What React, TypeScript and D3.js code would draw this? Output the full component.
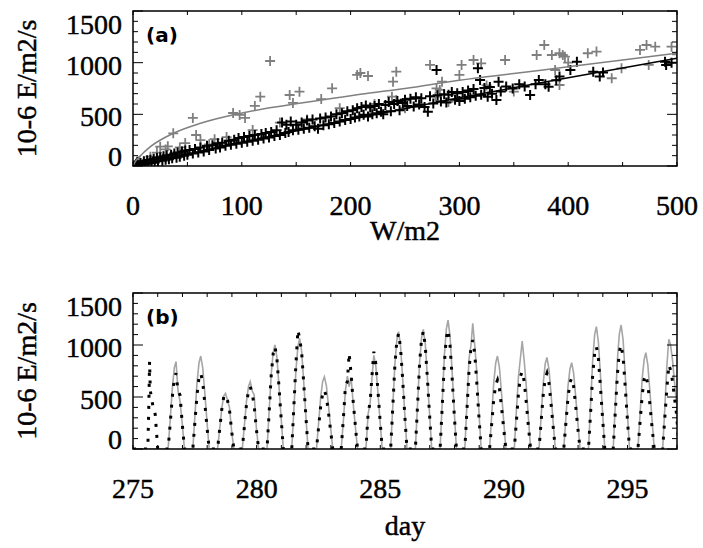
import React from 'react';
import * as d3 from 'd3';

const W = 703, H = 548;

// ---------- Panel (a) data ----------
const xTicksA = [0, 100, 200, 300, 400, 500];
const yTickLabels = [0, 500, 1000, 1500];

const grayPts: [number, number][] = [
  [3, 20], [6, 50], [10, 40], [16, 90], [22, 130], [25, 187], [30, 160], [32, 190], [37, 316], [43, 180],
  [48, 222], [55, 465], [58, 300], [62, 250], [70, 210], [75, 260], [86, 280], [92, 513], [98, 494], [103, 465],
  [110, 348], [112, 581], [117, 671], [126, 1016], [135, 420], [144, 687], [147, 610], [153, 719], [160, 450],
  [173, 648], [183, 752], [190, 560], [206, 881], [209, 900], [216, 871], [222, 600], [238, 671], [239, 816],
  [242, 913], [242, 639], [250, 560], [273, 978], [278, 671], [279, 752], [282, 736], [284, 816], [290, 620],
  [300, 881], [302, 978], [308, 736], [313, 1026], [320, 994], [325, 780], [342, 1026], [350, 720], [371, 1074],
  [378, 1171], [385, 1074], [388, 929], [392, 784], [392, 1091], [395, 1075], [397, 1058], [400, 1000],
  [418, 1091], [426, 1107], [440, 849], [449, 945], [466, 1123], [472, 1171], [474, 978], [480, 1155],
  [495, 1155], [500, 1080],
];

const blackPts: [number, number][] = [
  [1, 5], [3, 22], [4, 40], [5, 8], [7, 30], [8, 10], [10, 45], [11, 20], [13, 55], [14, 25], [16, 60], [17, 30],
  [19, 70], [20, 35], [22, 80], [23, 45], [25, 85], [27, 50], [28, 95], [30, 60], [31, 105], [33, 65], [35, 110],
  [36, 75], [38, 120], [40, 80], [41, 130], [43, 90], [45, 140], [47, 100], [48, 150], [50, 110], [52, 155],
  [55, 120], [57, 165], [60, 130], [62, 180], [65, 140], [68, 195], [70, 155], [73, 200], [76, 170], [78, 220],
  [80, 180], [82, 225], [85, 195], [88, 245], [90, 205], [93, 255], [95, 215], [97, 270], [100, 225], [102, 280],
  [105, 235], [107, 290], [110, 245], [112, 300], [115, 255], [118, 310], [120, 265], [122, 320], [125, 275],
  [127, 330], [130, 290], [132, 345], [135, 300], [137, 420], [140, 320], [141, 400], [143, 330], [145, 430],
  [147, 345], [150, 400], [152, 350], [155, 420], [157, 360], [160, 440], [162, 370], [165, 450], [167, 385],
  [170, 360], [172, 460], [175, 395], [177, 470], [180, 405], [182, 480], [185, 415], [187, 500], [190, 430],
  [192, 510], [195, 445], [197, 530], [200, 455], [202, 540], [204, 470], [206, 560], [208, 480], [210, 570],
  [212, 495], [214, 585], [216, 480], [218, 565], [220, 500], [222, 580], [224, 510], [226, 600], [228, 525],
  [230, 500], [232, 590], [235, 620], [237, 530], [240, 600], [243, 630], [245, 540], [248, 610], [250, 640],
  [252, 580], [255, 650], [258, 575], [260, 665], [263, 595], [265, 655], [268, 570], [271, 526], [273, 675],
  [276, 605], [279, 929], [280, 685], [283, 625], [286, 695], [288, 615], [290, 690], [293, 715], [296, 640],
  [298, 705], [300, 630], [303, 715], [305, 650], [308, 725], [310, 665], [313, 745], [315, 680], [317, 946],
  [319, 833], [320, 690], [323, 755], [326, 670], [328, 765], [330, 700], [334, 639], [336, 816], [338, 720],
  [343, 770], [349, 750], [355, 790], [360, 770], [365, 687], [370, 790], [373, 833], [379, 790], [382, 768],
  [389, 830], [392, 865], [402, 929], [408, 1010], [423, 913], [429, 865], [432, 905], [489, 1010], [490, 978],
  [495, 1000],
];

const grayFit: [number, number][] = [
  [0, 0], [2, 40], [6, 90], [16, 187], [37, 316], [62, 413], [92, 494], [123, 558], [153, 607], [184, 655],
  [209, 694], [250, 750], [300, 830], [350, 895], [400, 960], [450, 1025], [500, 1091],
];
const blackFit: [number, number][] = [
  [0, 0], [100, 230], [200, 450], [300, 660], [400, 855], [500, 1042],
];

// ---------- Panel (b) data ----------
const xTicksB = [275, 280, 285, 290, 295];
const days = [276, 277, 278, 279, 280, 281, 282, 283, 284, 285, 286, 287, 288, 289, 290, 291, 292, 293, 294, 295, 296];
const bellOffsets = [0.42, 0.51, 0.59, 0.67, 0.74, 0.82, 0.90, 0.99, 1.08];
const modelValues = [
  [0, 300, 580, 780, 840, 560, 460, 250, 0],
  [0, 340, 640, 830, 894, 780, 550, 270, 0],
  [0, 200, 390, 510, 535, 470, 400, 170, 0],
  [0, 240, 460, 600, 647, 560, 520, 200, 0],
  [0, 380, 720, 930, 1000, 880, 620, 300, 0],
  [0, 400, 760, 990, 1064, 940, 660, 320, 0],
  [0, 260, 500, 650, 695, 610, 430, 210, 0],
  [0, 280, 560, 700, 600, 690, 450, 220, 0],
  [0, 340, 440, 700, 900, 800, 560, 270, 0],
  [0, 430, 810, 1050, 1128, 990, 700, 340, 0],
  [0, 440, 830, 1070, 1150, 1010, 710, 350, 0],
  [0, 470, 890, 1150, 1240, 1090, 770, 370, 0],
  [0, 460, 870, 1000, 1208, 1000, 750, 360, 0],
  [0, 340, 640, 830, 894, 780, 550, 270, 0],
  [0, 390, 700, 880, 1038, 850, 620, 300, 0],
  [0, 330, 630, 820, 881, 770, 550, 260, 0],
  [0, 310, 600, 770, 830, 730, 510, 250, 0],
  [0, 450, 850, 1100, 1176, 1030, 730, 350, 0],
  [0, 450, 860, 1110, 1192, 1050, 740, 360, 0],
  [0, 350, 670, 860, 926, 810, 570, 280, 0],
  [0, 400, 800, 1055, 1000, 850, 640, 420, 0],
];
const obsValues = [
  [0, 260, 500, 680, 728, 560, 520, 250, 0],
  [0, 280, 520, 690, 728, 640, 450, 220, 0],
  [0, 200, 380, 500, 519, 470, 380, 170, 0],
  [0, 230, 430, 560, 599, 535, 420, 190, 0],
  [0, 370, 710, 920, 984, 870, 610, 300, 0],
  [0, 430, 820, 1144, 1060, 930, 650, 320, 0],
  [0, 220, 410, 530, 567, 500, 360, 180, 0],
  [0, 300, 600, 650, 920, 720, 470, 230, 0],
  [0, 350, 450, 720, 936, 820, 580, 280, 0],
  [0, 420, 800, 1040, 1110, 970, 690, 330, 0],
  [0, 430, 820, 1060, 1130, 990, 700, 340, 0],
  [0, 430, 820, 1070, 1144, 1000, 710, 340, 0],
  [0, 400, 760, 980, 1048, 920, 650, 310, 0],
  [0, 250, 480, 620, 663, 580, 410, 200, 0],
  [0, 280, 540, 700, 744, 650, 460, 220, 0],
  [0, 280, 520, 680, 728, 640, 450, 220, 0],
  [0, 260, 490, 640, 680, 600, 420, 200, 0],
  [0, 370, 710, 920, 984, 870, 610, 300, 0],
  [0, 380, 720, 940, 1000, 880, 620, 300, 0],
  [0, 270, 510, 670, 712, 620, 440, 210, 0],
  [0, 310, 580, 808, 760, 650, 490, 320, 0],
];
const firstObsSpike: [number, number][] = [
  [275.0, 0], [275.60, 0], [275.64, 420], [275.67, 840], [275.70, 560], [275.80, 420], [275.90, 330], [276.0, 0],
];

// ---------- layout ----------
const A = { left: 133, right: 677, top: 11, bottom: 166 };
const B = { left: 133, right: 677, top: 293, bottom: 449 };
const SERIF = 'Liberation Serif, Times New Roman, Times, DejaVu Serif, serif';
const SANS = 'DejaVu Sans, Verdana, sans-serif';
const FS = 28;

function buildSeries(vals: number[][], start: [number, number][]): [number, number][] {
  const out: [number, number][] = [...start];
  days.forEach((d, i) => bellOffsets.forEach((o, j) => out.push([d + o, vals[i][j]])));
  return out;
}

const serifStyle = { fontFamily: SERIF, fontSize: FS, stroke: '#000', strokeWidth: 0.45 };

function Frame({ box, xTickVals, x, y, xLabels }: any) {
  const els: any[] = [];
  xTickVals.forEach((v: number, i: number) => {
    const px = x(v);
    els.push(<line key={'xb' + i} x1={px} x2={px} y1={box.bottom} y2={box.bottom - 4} stroke="#000" strokeWidth={1} />);
    els.push(<line key={'xt' + i} x1={px} x2={px} y1={box.top} y2={box.top + 4} stroke="#000" strokeWidth={1} />);
  });
  d3.range(0, 1501, 100).forEach((v, i) => {
    const py = y(v);
    const len = v % 500 === 0 ? 10 : 5;
    els.push(<line key={'yl' + i} x1={box.left} x2={box.left + len} y1={py} y2={py} stroke="#000" strokeWidth={1} />);
    els.push(<line key={'yr' + i} x1={box.right} x2={box.right - len} y1={py} y2={py} stroke="#000" strokeWidth={1} />);
  });
  yTickLabels.forEach((v, i) => {
    const base = Math.min(Math.max(y(v) + 12, box.top + 23), box.bottom);
    els.push(<text key={'ylab' + i} x={122} y={base} textAnchor="end" style={serifStyle}>{v}</text>);
  });
  xLabels.forEach((v: number, i: number) => {
    els.push(<text key={'xlab' + i} x={x(v)} y={box.bottom + 49} textAnchor="middle" style={serifStyle}>{v}</text>);
  });
  els.push(<rect key="frame" x={box.left} y={box.top} width={box.right - box.left} height={box.bottom - box.top} fill="none" stroke="#000" strokeWidth={1.5} />);
  return <g>{els}</g>;
}

function plus(x: number, y: number, s: number) {
  return `M${x - s},${y}H${x + s}M${x},${y - s}V${y + s}`;
}

export default function App() {
  const xA = d3.scaleLinear().domain([0, 500]).range([A.left, A.right]);
  const yA = d3.scaleLinear().domain([0, 1500]).range([A.bottom, A.top]);
  const xB = d3.scaleLinear().domain([275, 297]).range([B.left, B.right]);
  const yB = d3.scaleLinear().domain([0, 1500]).range([B.bottom, B.top]);

  const lineA = d3.line<[number, number]>().x(d => xA(d[0])).y(d => yA(d[1])).curve(d3.curveMonotoneX);
  const lineB = d3.line<[number, number]>().x(d => xB(d[0])).y(d => yB(d[1]));

  const modelSeries = buildSeries(modelValues, [[275.0, 0]]);
  const obsSeries = buildSeries(obsValues, firstObsSpike);

  const grayPath = grayPts.map(p => plus(xA(p[0]), yA(p[1]), 5)).join('');
  const blackPath = blackPts.map(p => plus(xA(p[0]), yA(p[1]), 5)).join('');

  return (
    <svg width={W} height={H} style={{ position: 'absolute', left: 0, top: 0, background: '#fff' }}>
      <defs>
        <clipPath id="clipA"><rect x={A.left} y={A.top} width={A.right - A.left} height={A.bottom - A.top} /></clipPath>
        <clipPath id="clipB"><rect x={B.left} y={B.top} width={B.right - B.left} height={B.bottom - B.top} /></clipPath>
      </defs>
      <rect x={0} y={0} width={W} height={H} fill="#fff" />

      {/* Panel (a) */}
      <g clipPath="url(#clipA)">
        <path d={grayPath} stroke="#7f7f7f" strokeWidth={1.8} fill="none" />
        <path d={blackPath} stroke="#000" strokeWidth={2} fill="none" />
        <path d={lineA(grayFit) || ''} stroke="#808080" strokeWidth={1.5} fill="none" />
        <path d={lineA(blackFit) || ''} stroke="#000" strokeWidth={1.5} fill="none" />
      </g>
      <Frame box={A} xTickVals={d3.range(0, 501, 50)} x={xA} y={yA} xLabels={xTicksA} />
      <text x={146} y={42} style={{ fontFamily: SANS, fontWeight: 'bold', fontSize: 20 }}>(a)</text>
      <text x={(A.left + A.right) / 2} y={240} textAnchor="middle" style={serifStyle}>W/m2</text>
      <text transform={`translate(36,${(A.top + A.bottom) / 2}) rotate(-90)`} textAnchor="middle" style={serifStyle}>10-6 E/m2/s</text>

      {/* Panel (b) */}
      <g clipPath="url(#clipB)">
        <path d={lineB(modelSeries) || ''} stroke="#a6a6a6" strokeWidth={1.6} fill="none" />
        <path d={lineB(obsSeries) || ''} stroke="#000" strokeWidth={3} strokeDasharray="3 8" fill="none" />
      </g>
      <Frame box={B} xTickVals={d3.range(275, 298, 1)} x={xB} y={yB} xLabels={xTicksB} />
      <text x={146} y={324} style={{ fontFamily: SANS, fontWeight: 'bold', fontSize: 20 }}>(b)</text>
      <text x={(B.left + B.right) / 2} y={535} textAnchor="middle" style={serifStyle}>day</text>
      <text transform={`translate(36,${(B.top + B.bottom) / 2}) rotate(-90)`} textAnchor="middle" style={serifStyle}>10-6 E/m2/s</text>
    </svg>
  );
}
